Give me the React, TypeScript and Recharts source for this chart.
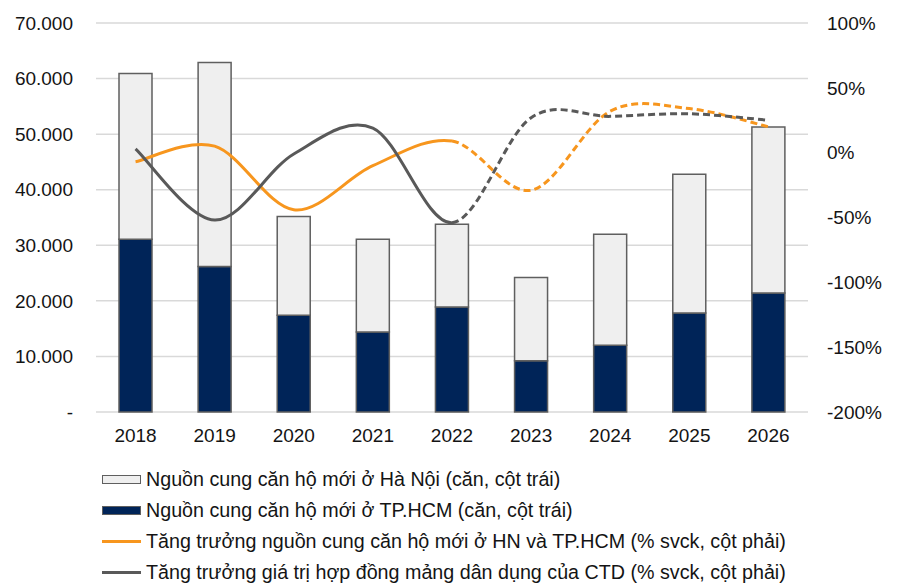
import React from 'react';
import { ComposedChart, Bar, Line, XAxis, YAxis, CartesianGrid } from 'recharts';

const years = ['2018', '2019', '2020', '2021', '2022', '2023', '2024', '2025', '2026'];
// nguồn cung căn hộ mới (căn)
const hcmSupply = [31100, 26200, 17400, 14400, 18900, 9200, 12000, 17800, 21400];
const hanoiSupply = [29800, 36700, 17800, 16700, 14900, 15000, 20000, 25000, 29900];
// tăng trưởng (% svck)
const supplyGrowth = [-7, 5, -44, -10, 9, -29, 32, 34, 20];
const ctdGrowth = [3, -52, -1, 19, -54, 27, 28, 30, 25];

const leftTicks = [0, 10000, 20000, 30000, 40000, 50000, 60000, 70000];
const rightTicks = [-200, -150, -100, -50, 0, 50, 100];

const legendItems = [
  { label: 'Nguồn cung căn hộ mới ở Hà Nội (căn, cột trái)', kind: 'box', color: '#efefef' },
  { label: 'Nguồn cung căn hộ mới ở TP.HCM (căn, cột trái)', kind: 'box', color: '#002458' },
  { label: 'Tăng trưởng nguồn cung căn hộ mới ở HN và TP.HCM (% svck, cột phải)', kind: 'line', color: '#f7961e' },
  { label: 'Tăng trưởng giá trị hợp đồng mảng dân dụng của CTD (% svck, cột phải)', kind: 'line', color: '#595959' },
];

const FONT = '"Liberation Sans", Arial, sans-serif';
const LAST_ACTUAL = 4; // 2022: nét liền tới đây, sau đó là dự báo (nét đứt)

const data = years.map((year, i) => ({
  year,
  hcm: hcmSupply[i],
  hanoi: hanoiSupply[i],
  supply: supplyGrowth[i],
  ctd: ctdGrowth[i],
}));

// Excel-style smoothing (Catmull-Rom), only drawing segments from..to but using all points for tangents
const segmentCurve = (from: number, to: number) => (context: any) => {
  let pts: number[][] = [];
  return {
    areaStart() {},
    areaEnd() {},
    lineStart() {
      pts = [];
    },
    lineEnd() {
      const n = pts.length;
      if (!n) return;
      const end = Math.min(to, n - 1);
      context.moveTo(pts[from][0], pts[from][1]);
      for (let i = from; i < end; i++) {
        const p0 = pts[Math.max(i - 1, 0)];
        const p1 = pts[i];
        const p2 = pts[i + 1];
        const p3 = pts[Math.min(i + 2, n - 1)];
        context.bezierCurveTo(
          p1[0] + (p2[0] - p0[0]) / 6,
          p1[1] + (p2[1] - p0[1]) / 6,
          p2[0] - (p3[0] - p1[0]) / 6,
          p2[1] - (p3[1] - p1[1]) / 6,
          p2[0],
          p2[1],
        );
      }
    },
    point(x: number, y: number) {
      pts.push([x, y]);
    },
  };
};

const solidCurve = segmentCurve(0, LAST_ACTUAL);
const dashedCurve = segmentCurve(LAST_ACTUAL, years.length - 1);

const fmtLeft = (v: number) => (v === 0 ? '-' : String(v).replace(/\B(?=(\d{3})+(?!\d))/g, '.'));
const fmtRight = (v: number) => `${v}%`;

const tickStyle = { fill: '#141414', fontSize: 19, fontFamily: FONT };

const App: React.FC = () => {
  return (
    <div style={{ position: 'absolute', left: 0, top: 0, width: 898, height: 585, background: '#fff', fontFamily: FONT }}>
      <ComposedChart width={898} height={450} data={data} margin={{ top: 23, right: 0, left: 0, bottom: 8 }}>
        <CartesianGrid yAxisId="left" vertical={false} stroke="#d9d9d9" strokeWidth={1.5} />
        <XAxis dataKey="year" axisLine={false} tickLine={false} tickSize={0} tickMargin={17} height={30} tick={tickStyle} />
        <YAxis
          yAxisId="left"
          domain={[0, 70000]}
          ticks={leftTicks}
          tickFormatter={fmtLeft}
          axisLine={false}
          tickLine={false}
          tickSize={0}
          tickMargin={23}
          width={96}
          tick={tickStyle}
        />
        <YAxis
          yAxisId="right"
          orientation="right"
          domain={[-200, 100]}
          ticks={rightTicks}
          tickFormatter={fmtRight}
          axisLine={false}
          tickLine={false}
          tickSize={0}
          tickMargin={19}
          width={90}
          tick={{ ...tickStyle, textAnchor: 'start' }}
        />
        <Bar yAxisId="left" dataKey="hcm" stackId="a" barSize={33} fill="#002458" stroke="#5f5f5f" strokeWidth={1.5} isAnimationActive={false} />
        <Bar yAxisId="left" dataKey="hanoi" stackId="a" barSize={33} fill="#efefef" stroke="#5f5f5f" strokeWidth={1.5} isAnimationActive={false} />
        <Line yAxisId="right" dataKey="supply" type={solidCurve as any} stroke="#f7961e" strokeWidth={3} dot={false} activeDot={false} isAnimationActive={false} />
        <Line yAxisId="right" dataKey="supply" type={dashedCurve as any} stroke="#f7961e" strokeWidth={3} strokeDasharray="7 4" dot={false} activeDot={false} isAnimationActive={false} />
        <Line yAxisId="right" dataKey="ctd" type={solidCurve as any} stroke="#595959" strokeWidth={3} dot={false} activeDot={false} isAnimationActive={false} />
        <Line yAxisId="right" dataKey="ctd" type={dashedCurve as any} stroke="#595959" strokeWidth={3} strokeDasharray="7 4" dot={false} activeDot={false} isAnimationActive={false} />
      </ComposedChart>
      <div style={{ position: 'absolute', left: 102, top: 464 }}>
        {legendItems.map((item) => (
          <div key={item.label} style={{ display: 'flex', alignItems: 'center', height: 31, fontSize: 19.7, color: '#141414', whiteSpace: 'nowrap' }}>
            {item.kind === 'box' ? (
              <span style={{ display: 'inline-block', width: 37, height: 7, background: item.color, border: '1.5px solid #5f5f5f', marginRight: 5 }} />
            ) : (
              <span style={{ display: 'inline-block', width: 39, height: 3, background: item.color, marginRight: 5 }} />
            )}
            <span>{item.label}</span>
          </div>
        ))}
      </div>
    </div>
  );
};

export default App;
